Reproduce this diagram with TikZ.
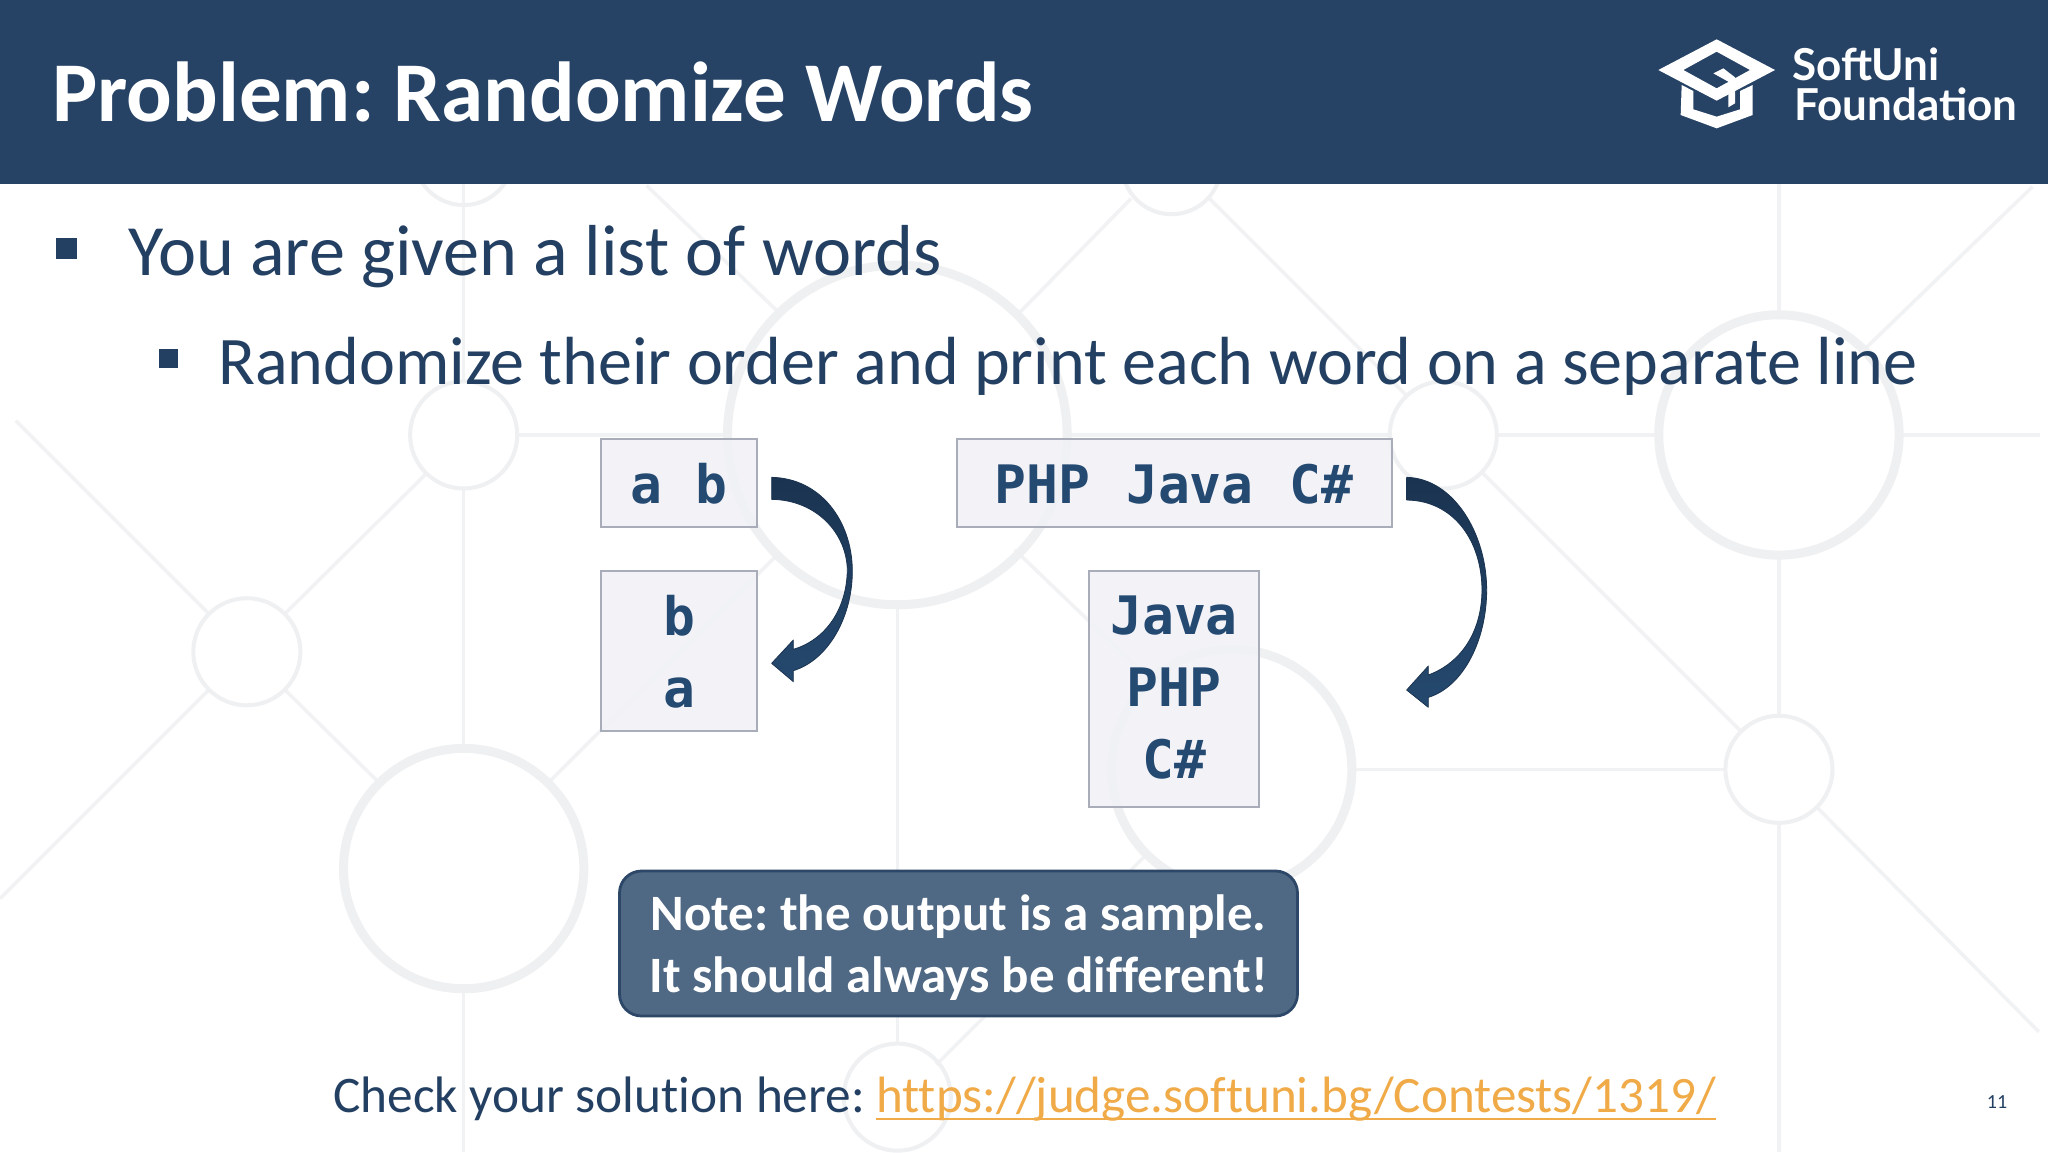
\documentclass[tikz,border=0pt]{standalone}
\usepackage{fontspec}
\setmainfont[Ligatures=NoCommon]{Carlito}
\newfontfamily\monof{DejaVu Sans Mono}
\newfontfamily\logof{Lato}
\definecolor{hdr}{HTML}{264366}
\definecolor{ink}{HTML}{234063}
\definecolor{codeink}{HTML}{254A72}
\definecolor{ringc}{HTML}{EFF0F2}
\definecolor{linec}{HTML}{F1F2F4}
\definecolor{boxf}{HTML}{F1F2F6}
\definecolor{boxd}{HTML}{A9ACB9}
\definecolor{notef}{HTML}{4F6883}
\definecolor{noted}{HTML}{2C4767}
\definecolor{linkc}{HTML}{F0AB48}
\definecolor{arrowtop}{HTML}{1A3350}
\definecolor{arrowbot}{HTML}{25496F}
\frenchspacing
\tikzset{
  bigring/.style={draw=ringc,line width=9pt},
  smallring/.style={draw=ringc,line width=4pt},
  bgline/.style={draw=linec,line width=3.5pt},
  txt/.style={anchor=base west,inner sep=0pt,text=ink},
  codebox/.style={draw=boxd,line width=1.6pt,fill=boxf,fill opacity=.85,text opacity=1},
  codetxt/.style={inner sep=0pt,text=codeink,font=\monof\bfseries\fontsize{53}{72}\selectfont,align=center},
  blockarrow/.style={top color=arrowtop,bottom color=arrowbot,draw=arrowtop,line width=.8pt,line join=round},
  bulletmark/.style={fill=ink}
}
\begin{document}
\begin{tikzpicture}[x=1pt,y=-1pt]
\useasboundingbox (0,0) rectangle (2048,1152);
\fill[white] (0,0) rectangle (2048,1152);
% background pattern (coordinates of the 1568-wide view)
\begin{scope}[scale=1.30612]
\draw[bgline] (355,141) -- (355,292) (355,374) -- (355,573) (355,757) -- (355,882);
\draw[bgline] (687,463) -- (687,799);
\draw[bgline] (1362,141) -- (1362,241) (1362,425) -- (1362,548) (1362,630) -- (1362,882);
\draw[bgline] (397,333) -- (557,333) (817,333) -- (1064,333) (1146,333) -- (1270,333) (1454,333) -- (1562,333);
\draw[bgline] (1033,589) -- (1321,589);
\draw[bgline] (12,322) -- (160,470) (218,470) -- (327,362) (160,528) -- (0,688) (218,528) -- (290,599);
\draw[bgline] (420,599) -- (597,423);
\draw[bgline] (495,142) -- (597,240);
\draw[bgline] (866,152) -- (780,240);
\draw[bgline] (777,421) -- (875,515);
\draw[bgline] (926,152) -- (1076,302);
\draw[bgline] (1134,361) -- (1332,559) (1391,618) -- (1561,790);
\draw[bgline] (1556,143) -- (1429,266);
\draw[bgline] (717,815) -- (879,653);
\draw[bigring] (687,333) circle (130);
\draw[bigring] (355,665) circle (92);
\draw[bigring] (1362,333) circle (92);
\draw[bigring] (943,589) circle (92);
\draw[smallring] (355,333) circle (41);
\draw[smallring] (189,499) circle (41);
\draw[smallring] (1105,333) circle (41);
\draw[smallring] (1362,589) circle (41);
\draw[smallring] (687,840) circle (41);
\draw[smallring] (355,119) circle (38);
\draw[smallring] (897,126) circle (38);
\end{scope}
% header
\fill[hdr] (0,0) rectangle (2048,184);
\node[anchor=base west,inner sep=0pt,text=white,font=\bfseries\fontsize{85.1}{90}\selectfont] (title) at (52,121.5) {Problem: Randomize Words};
% logo
\begin{scope}[shift={(1620,20)},scale=.33333]
\fill[white,even odd rule] (290,58) -- (465,150) -- (290,242) -- (115,150) -- cycle
  (290,95) -- (190,150) -- (290,205) -- (390,150) -- cycle;
\fill[white] (185,195) -- (220,213) -- (220,268) -- (290,290) -- (360,268) -- (360,213) -- (398,195) -- (398,285) -- (290,325) -- (182,285) -- cycle;
\fill[white] (280,160) -- (310,145) -- (345,172) -- (345,250) -- (325,262) -- (325,185) -- cycle;
\end{scope}
\node[anchor=base west,inner sep=0pt,text=white,font=\logof\bfseries\fontsize{44}{48}\selectfont] (logoa) at (1792,80) {SoftUni};
\node[anchor=base west,inner sep=0pt,text=white,font=\logof\bfseries\fontsize{44}{48}\selectfont] (logob) at (1794,120) {Foundation};
% bullets
\fill[bulletmark] (56,238) rectangle (77,259);
\fill[bulletmark] (159,349) rectangle (178,368);
\node[txt,font=\fontsize{72.2}{80}\selectfont] (line1) at (128,275) {You are given a list of words};
\node[txt,font=\fontsize{68.1}{76}\selectfont] (line2) at (218,384) {Randomize their order and print each word on a separate line};
% boxes
\draw[codebox] (601,439) rectangle (757,527);
\draw[codebox] (601,571) rectangle (757,731);
\draw[codebox] (957,439) rectangle (1392,527);
\draw[codebox] (1089,571) rectangle (1259,807);
\node[codetxt] (inone) at (679,484) {a\hspace{34pt}b};
\node[codetxt] (outone) at (679,652) {b\\a};
\node[codetxt] (intwo) at (1174,484) {PHP\hspace{36pt}Java\hspace{36pt}C\#};
\node[codetxt] (outtwo) at (1174,688) {Java\\PHP\\C\#};
% curved block arrows
\begin{scope}[shift={(580,420)},scale=.33333]
\path[blockarrow] (575,172) .. controls (720,175) and (815,300) .. (817,450)
  .. controls (818,590) and (745,720) .. (640,752) -- (640,785) -- (575,730) -- (640,660) -- (640,688)
  .. controls (735,660) and (800,570) .. (802,450)
  .. controls (800,340) and (710,240) .. (575,238) -- cycle;
\end{scope}
\begin{scope}[shift={(1000,420)},scale=.33333]
\path[blockarrow] (1220,172) .. controls (1360,175) and (1460,340) .. (1460,510)
  .. controls (1460,660) and (1390,800) .. (1285,832) -- (1285,862) -- (1220,810) -- (1285,738) -- (1285,765)
  .. controls (1380,730) and (1445,640) .. (1446,510)
  .. controls (1445,360) and (1360,242) .. (1220,240) -- cycle;
\end{scope}
% note
\node[draw=noted,line width=2.8pt,fill=notef,rounded corners=22pt,minimum width=678pt,minimum height=145pt,inner sep=0pt] (notebox) at (958.5,943.5) {};
\node[anchor=base,inner sep=0pt,text=white,font=\bfseries\fontsize{51}{62}\selectfont] (notea) at (958.5,930) {Note: the output is a sample.};
\node[anchor=base,inner sep=0pt,text=white,font=\bfseries\fontsize{51}{62}\selectfont] (noteb) at (958.5,992) {It should always be different!};
% footer
\node[txt,font=\fontsize{51.3}{58}\selectfont] (check) at (333,1112.5) {Check your solution here:};
\node[anchor=base west,inner sep=0pt,text=linkc,font=\fontsize{51.1}{58}\selectfont] (url) at (876,1112.5) {https://judge.softuni.bg/Contests/1319/};
\draw[linkc,line width=2.6pt] (url.base west |- 0,1119) -- (url.base east |- 0,1119);
\node[anchor=center,inner sep=0pt,text=ink,font=\fontsize{20}{22}\selectfont] (pageno) at (1997,1102) {11};
\end{tikzpicture}
\end{document}
